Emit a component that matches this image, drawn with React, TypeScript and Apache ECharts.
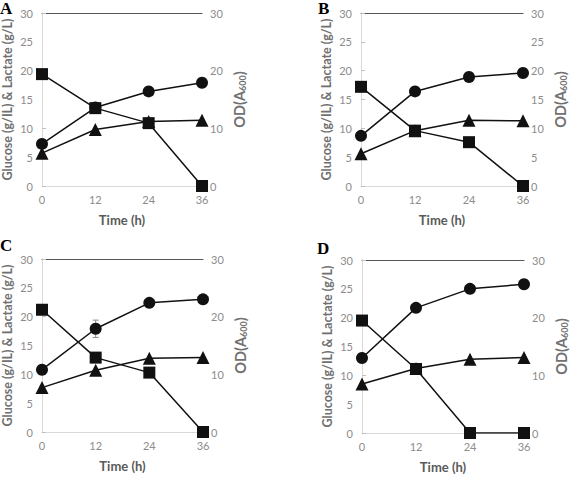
import React, { useEffect, useRef } from "react";
import * as echarts from "echarts";

const hours = [0, 12, 24, 36];
const xTicks = [0, 12, 24, 36];

const glucoseA = [19.4, 13.5, 10.9, 0];
const odA = [7.3, 13.6, 16.4, 17.9];
const lactateA = [5.7, 9.8, 11.2, 11.4];

const glucoseB = [17.2, 9.6, 7.6, 0];
const odB = [8.7, 16.4, 18.9, 19.6];
const lactateB = [5.6, 9.6, 11.4, 11.3];

const glucoseC = [21.2, 12.9, 10.3, 0];
const odC = [10.8, 17.9, 22.4, 23.0];
const lactateC = [7.7, 10.7, 12.8, 12.9];
const odErrC = [0, 1.5, 0, 0];

const glucoseD = [19.5, 11.1, 0, 0];
const odD = [13.0, 21.7, 25.0, 25.8];
const lactateD = [8.5, 11.2, 12.8, 13.1];

const panelLetters = ["A", "B", "C", "D"];
const rightIntervals = [10, 5, 10, 10];

const panels = [
  { glucose: glucoseA, od: odA, lactate: lactateA, err: null as number[] | null },
  { glucose: glucoseB, od: odB, lactate: lactateB, err: null as number[] | null },
  { glucose: glucoseC, od: odC, lactate: lactateC, err: odErrC },
  { glucose: glucoseD, od: odD, lactate: lactateD, err: null as number[] | null },
];

const grids = [
  { left: 41, top: 13, width: 161, height: 173 },
  { left: 361, top: 13, width: 162, height: 173 },
  { left: 41, top: 259, width: 162, height: 173 },
  { left: 362, top: 260, width: 162, height: 173 },
];

const letterPos = [
  { x: 0, y: 0 },
  { x: 318, y: 0 },
  { x: 0, y: 237 },
  { x: 317, y: 240 },
];

const FONT = "Lato";
const LABEL_COLOR = "#8c8c8c";
const TITLE_COLOR = "#707070";
const AXIS_COLOR = "#d9d9d9";
const LINE_COLOR = "#111";

export default function App() {
  const ref = useRef<HTMLDivElement>(null);
  useEffect(() => {
    if (!ref.current) return;
    const chart = echarts.init(ref.current, null, { renderer: "svg" });

    const xAxis: any[] = [];
    const yAxis: any[] = [];
    const series: any[] = [];

    panels.forEach((p, i) => {
      xAxis.push({
        type: "value",
        gridIndex: i,
        min: 0,
        max: 36,
        interval: 12,
        position: "bottom",
        axisLine: { show: true, lineStyle: { color: AXIS_COLOR, width: 1 } },
        axisTick: { show: false },
        splitLine: { show: false },
        axisLabel: {
          color: LABEL_COLOR,
          fontSize: 11,
          fontFamily: FONT,
          margin: 8,
          customValues: xTicks,
        },
        name: "Time (h)",
        nameLocation: "middle",
        nameGap: 27,
        nameTextStyle: { color: "#5a5a5a", fontSize: 13, fontWeight: "bold", fontFamily: FONT },
      });
      xAxis.push({
        type: "value",
        gridIndex: i,
        min: 0,
        max: 36,
        position: "top",
        axisLine: { show: true, onZero: false, lineStyle: { color: "#555", width: 1 } },
        axisTick: { show: false },
        axisLabel: { show: false },
        splitLine: { show: false },
      });
      yAxis.push({
        type: "value",
        gridIndex: i,
        min: 0,
        max: 30,
        interval: 5,
        position: "left",
        axisLine: { show: true, lineStyle: { color: AXIS_COLOR, width: 1 } },
        axisTick: { show: false },
        splitLine: { show: false },
        axisLabel: { color: LABEL_COLOR, fontSize: 11, fontFamily: FONT, margin: 9 },
        name: "Glucose (g/IL) & Lactate (g/L)",
        nameLocation: "middle",
        nameRotate: 90,
        nameGap: 28,
        nameTextStyle: { color: TITLE_COLOR, fontSize: 12.5, fontWeight: "bold", fontFamily: FONT },
      });
      yAxis.push({
        type: "value",
        gridIndex: i,
        min: 0,
        max: 30,
        interval: rightIntervals[i],
        position: "right",
        axisLine: { show: true, lineStyle: { color: AXIS_COLOR, width: 1 } },
        axisTick: { show: true, inside: false, length: 4, lineStyle: { color: "#bfbfbf" } },
        splitLine: { show: false },
        axisLabel: { color: LABEL_COLOR, fontSize: 11, fontFamily: FONT, margin: 8 },
        name: "OD(A{sub|600})",
        nameLocation: "middle",
        nameRotate: 90,
        nameGap: 29,
        nameTextStyle: {
          color: TITLE_COLOR,
          fontSize: 14.5,
          fontWeight: "bold",
          fontFamily: FONT,
          rich: {
            sub: { fontSize: 9, fontWeight: "bold", color: TITLE_COLOR, fontFamily: FONT, verticalAlign: "bottom", padding: [7, 0, 0, 0] },
          },
        },
      });

      const mk = (vals: number[]) => hours.map((h, k) => [h, vals[k]]);
      const base = {
        type: "line",
        xAxisIndex: 2 * i,
        lineStyle: { color: LINE_COLOR, width: 1.5 },
        itemStyle: { color: LINE_COLOR },
        showAllSymbol: true,
        silent: true,
      };
      series.push({ ...base, name: "Glucose", yAxisIndex: 2 * i, symbol: "rect", symbolSize: 12, data: mk(p.glucose), z: 3 });
      series.push({ ...base, name: "Lactate", yAxisIndex: 2 * i, symbol: "triangle", symbolSize: 13, data: mk(p.lactate), z: 3 });
      series.push({ ...base, name: "OD600", yAxisIndex: 2 * i + 1, symbol: "circle", symbolSize: 12, data: mk(p.od), z: 3 });

      if (p.err) {
        const errData = hours.map((h, k) => [h, p.od[k], p.err![k]]).filter((d) => d[2] > 0);
        series.push({
          type: "custom",
          xAxisIndex: 2 * i,
          yAxisIndex: 2 * i + 1,
          data: errData,
          z: 2,
          silent: true,
          renderItem: (params: any, api: any) => {
            const x = api.value(0);
            const y = api.value(1);
            const e = api.value(2);
            const hi = api.coord([x, y + e]);
            const lo = api.coord([x, y - e]);
            const w = 3;
            const st = { stroke: "#8c8c8c", lineWidth: 1 };
            return {
              type: "group",
              children: [
                { type: "line", shape: { x1: hi[0], y1: hi[1], x2: lo[0], y2: lo[1] }, style: st },
                { type: "line", shape: { x1: hi[0] - w, y1: hi[1], x2: hi[0] + w, y2: hi[1] }, style: st },
                { type: "line", shape: { x1: lo[0] - w, y1: lo[1], x2: lo[0] + w, y2: lo[1] }, style: st },
              ],
            };
          },
        });
      }
    });

    const graphic = panelLetters.map((t, i) => ({
      type: "text",
      x: letterPos[i].x,
      y: letterPos[i].y,
      style: {
        text: t,
        font: "bold 17px 'Liberation Serif', 'Times New Roman', serif",
        fill: "#000",
        textVerticalAlign: "top",
      },
    }));

    chart.setOption({
      animation: false,
      backgroundColor: "#fff",
      grid: grids.map((g) => ({ ...g, containLabel: false })),
      xAxis,
      yAxis,
      series,
      graphic,
    });
    return () => chart.dispose();
  }, []);

  return (
    <div
      ref={ref}
      style={{ position: "fixed", left: 0, top: 0, width: 570, height: 478, background: "#fff" }}
    />
  );
}
